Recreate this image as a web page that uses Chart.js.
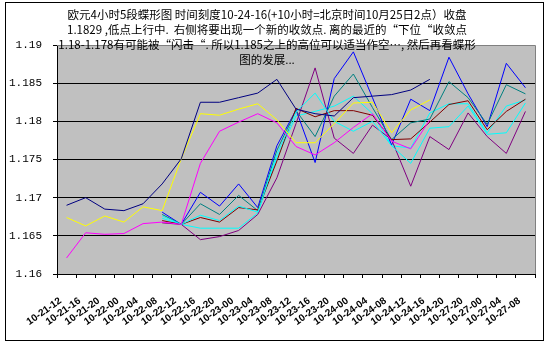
<!DOCTYPE html>
<html>
<head>
<meta charset="utf-8">
<script src="https://cdn.jsdelivr.net/npm/chart.js@4/dist/chart.umd.min.js"></script>
<style>
  html, body { margin: 0; padding: 0; background: #fff; }
  canvas { display: block; }
</style>
</head>
<body>
<canvas id="c" width="551" height="347"></canvas>
<script>
// 4-hour EUR/USD butterfly chart: time slots, y ticks and the nine line series
const categories = ['10-21-12','10-21-16','10-21-20','10-22-00','10-22-04','10-22-08','10-22-12','10-22-16','10-22-20','10-23-00','10-23-04','10-23-08','10-23-12','10-23-16','10-23-20','10-24-00','10-24-04','10-24-08','10-24-12','10-24-16','10-24-20','10-27-20','10-27-00','10-27-04','10-27-08'];
const yTicks = [1.16, 1.165, 1.17, 1.175, 1.18, 1.185, 1.19];

const navySeries    = [1.1690,1.1700,1.1685,1.1683,1.1692,1.1718,1.1751,1.1825,1.1825,1.1831,1.1837,1.1855,1.1816,1.1810,1.1807,1.1831,1.1833,1.1835,1.1841,1.1855,null,null,null,null,null];
const magentaSeries = [1.1621,1.1654,1.1652,1.1653,1.1666,1.1668,1.1665,1.1745,1.1787,1.1799,1.1810,1.1798,1.1767,1.1756,1.1772,1.1792,1.1810,1.1774,1.1764,1.1802,null,null,null,null,null];
const yellowSeries  = [1.1674,1.1663,1.1676,1.1668,1.1688,1.1683,1.1751,1.1810,1.1808,1.1816,1.1823,1.1802,1.1772,1.1772,1.1797,1.1824,1.1825,1.1785,1.1815,1.1828,null,null,null,null,null];
const cyanSeries    = [null,null,null,null,null,1.1676,1.1665,1.1677,1.1670,1.1689,1.1681,1.1757,1.1812,1.1837,1.1800,1.1787,1.1800,1.1768,1.1745,1.1791,1.1793,1.1820,1.1783,1.1785,1.1824];
const purpleSeries  = [null,null,null,null,null,1.1667,1.1665,1.1645,1.1649,1.1657,1.1678,1.1726,1.1797,1.1870,1.1778,1.1758,1.1795,1.1776,1.1715,1.1780,1.1763,1.1811,1.1780,1.1758,1.1813];
const maroonSeries  = [null,null,null,null,null,1.1670,1.1665,1.1674,1.1668,1.1687,1.1684,1.1748,1.1817,1.1806,1.1814,1.1814,1.1808,1.1776,1.1777,1.1799,1.1822,1.1827,1.1789,1.1813,1.1829];
const tealSeries    = [null,null,null,null,null,1.1678,1.1665,1.1692,1.1678,1.1703,1.1683,1.1762,1.1814,1.1780,1.1833,1.1862,1.1818,1.1776,1.1798,1.1803,1.1852,1.1831,1.1796,1.1848,1.1836];
const blueSeries    = [null,null,null,null,null,1.1681,1.1665,1.1707,1.1689,1.1718,1.1687,1.1768,1.1815,1.1746,1.1856,1.1891,1.1831,1.1769,1.1829,1.1814,1.1884,1.1836,1.1793,1.1876,1.1844];
const skySeries     = [null,null,null,null,null,1.1673,1.1665,1.1660,1.1660,1.1660,1.1680,1.1752,1.1807,1.1813,1.1820,1.1833,1.1810,1.1768,1.1765,1.1811,1.1823,1.1823,1.1785,1.1820,1.1828];

const titleLines = [
  '欧元4小时5段蝶形图 时间刻度10-24-16(+10小时=北京时间10月25日2点）收盘',
  '1.1829 ,低点上行中.  右侧将要出现一个新的收敛点. 离的最近的“下位“收敛点',
  '1.18-1.178有可能被“闪击“. 所以1.185之上的高位可以适当作空…, 然后再看蝶形',
  '图的发展...'
];

function line(data, color) {
  return { data, borderColor: color, backgroundColor: color, borderWidth: 1,
           pointRadius: 0, pointHoverRadius: 0, tension: 0, spanGaps: false };
}

const frame = {
  id: 'frame',
  beforeDraw(chart) {
    const { ctx, chartArea: a } = chart;
    ctx.save();
    ctx.fillStyle = '#ffffff';
    ctx.fillRect(0, 0, chart.width, chart.height);
    ctx.fillStyle = '#c0c0c0';
    ctx.fillRect(a.left, a.top, a.right - a.left, a.bottom - a.top);
    ctx.restore();
  },
  afterDraw(chart) {
    const { ctx, chartArea: a } = chart;
    ctx.save();
    // plot-area edge on the top and right
    ctx.strokeStyle = '#808080';
    ctx.lineWidth = 1;
    ctx.beginPath();
    ctx.moveTo(a.left, Math.round(a.top) + 0.5);
    ctx.lineTo(Math.round(a.right) + 0.5, Math.round(a.top) + 0.5);
    ctx.lineTo(Math.round(a.right) + 0.5, a.bottom);
    ctx.stroke();
    // outer chart border
    ctx.strokeStyle = '#000000';
    ctx.strokeRect(5.5, 2.5, 538, 338);
    // multi-line title
    ctx.fillStyle = '#000000';
    ctx.font = '11.5px "Noto Sans CJK SC"';
    ctx.textAlign = 'center';
    ctx.textBaseline = 'middle';
    titleLines.forEach((t, i) => ctx.fillText(t, 267, 15 + i * 15));
    ctx.restore();
  }
};

new Chart(document.getElementById('c'), {
  type: 'line',
  data: {
    labels: categories,
    datasets: [
      line(navySeries, '#000080'),
      line(magentaSeries, '#ff00ff'),
      line(yellowSeries, '#ffff00'),
      line(cyanSeries, '#00ffff'),
      line(purpleSeries, '#800080'),
      line(maroonSeries, '#800000'),
      line(tealSeries, '#008080'),
      line(blueSeries, '#0000ff'),
      line(skySeries, '#00ffff')
    ]
  },
  options: {
    responsive: false,
    animation: false,
    devicePixelRatio: 1,
    layout: { padding: { top: 45, right: 16, left: 0, bottom: 0 } },
    plugins: { legend: { display: false }, tooltip: { enabled: false }, title: { display: false } },
    scales: {
      x: {
        offset: true,
        grid: { display: true, drawOnChartArea: false, offset: true, color: '#000', tickLength: 4, tickColor: '#000' },
        border: { display: true, color: '#000', width: 1 },
        ticks: {
          autoSkip: false, minRotation: 35, maxRotation: 35, padding: 17, labelOffset: -6,
          color: '#000', font: { family: '"Liberation Sans", Arial', size: 10, weight: 'bold' }
        },
        afterFit(s) { s.height = 73; }
      },
      y: {
        min: 1.16, max: 1.19,
        afterBuildTicks(s) { s.ticks = yTicks.map(v => ({ value: v })); },
        grid: {
          color: c => (c.tick && c.tick.value === 1.19) ? '#808080' : '#000',
          tickColor: '#000', tickLength: 4, lineWidth: 1
        },
        border: { display: true, color: '#000', width: 1 },
        ticks: {
          padding: 11, color: '#000',
          font: { family: '"Liberation Mono", monospace', size: 11 },
          callback: v => String(Number(Number(v).toFixed(3)))
        },
        afterFit(s) { s.width = 57; }
      }
    }
  },
  plugins: [frame]
});
</script>
</body>
</html>
